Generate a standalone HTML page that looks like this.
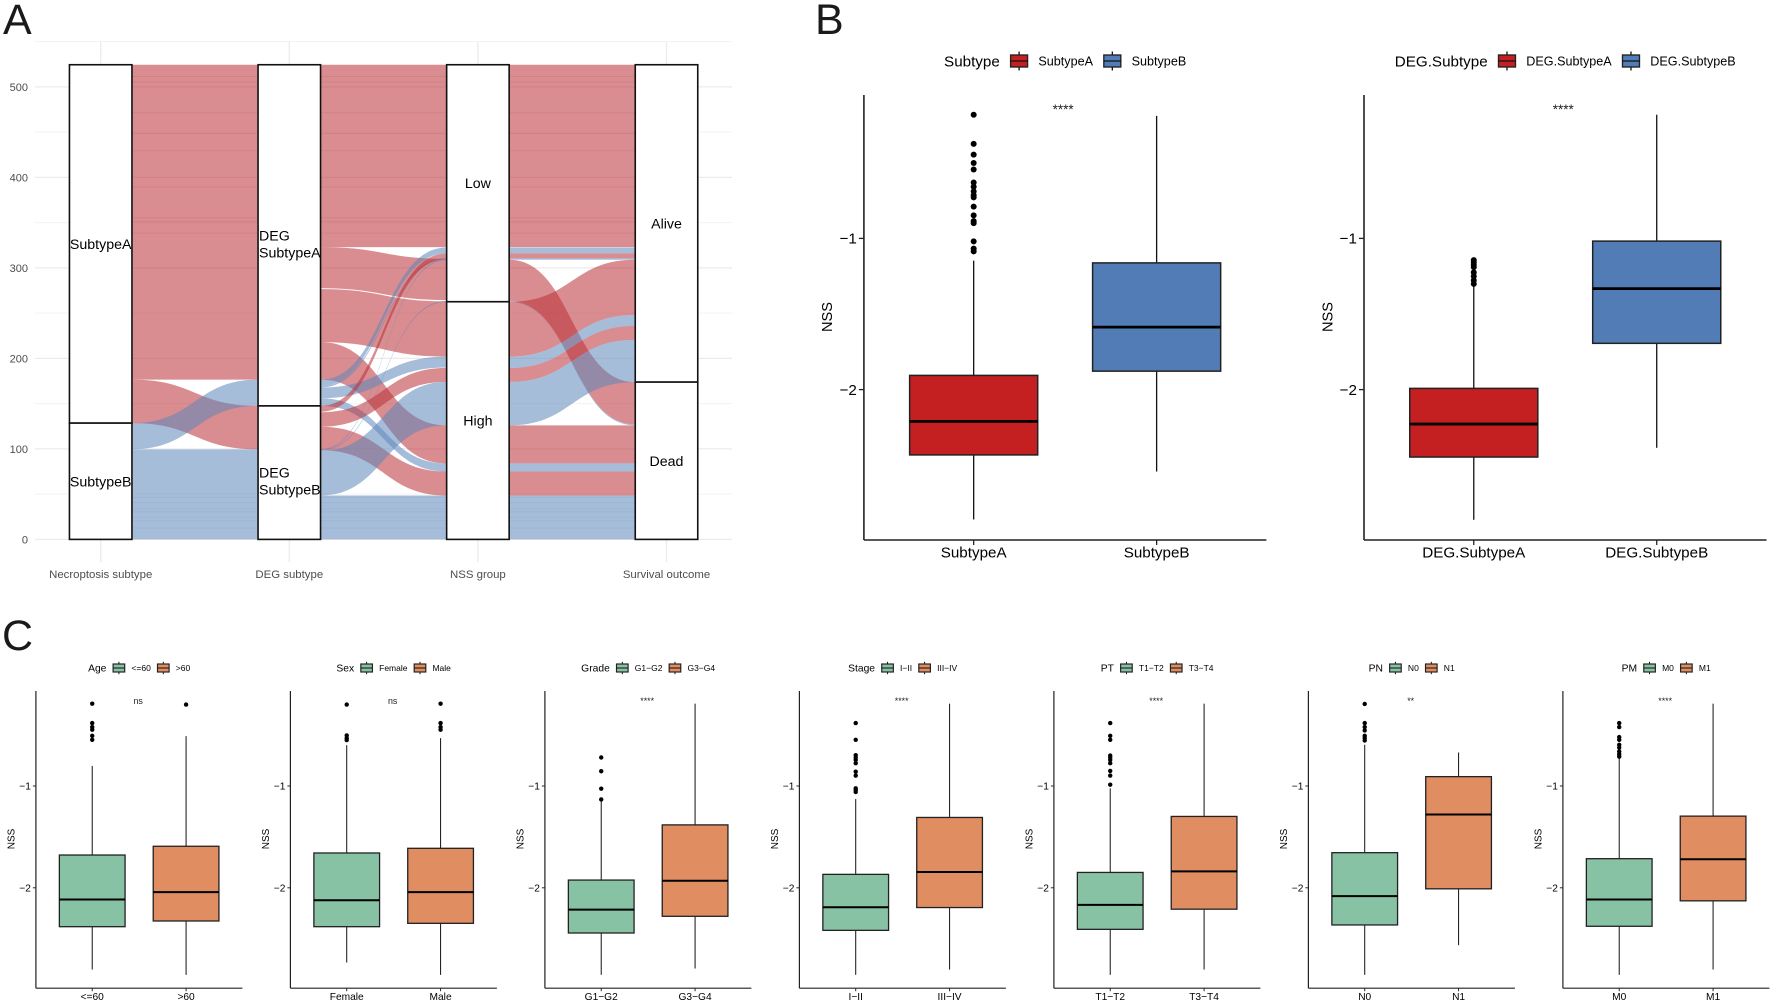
<!DOCTYPE html>
<html lang="en">
<head>
<meta charset="utf-8">
<title>Alluvial and NSS boxplots</title>
<style>
html,body{margin:0;padding:0;background:#fff;width:1772px;height:1002px;overflow:hidden}
svg{display:block;font-family:"Liberation Sans",Arial,sans-serif;filter:blur(0.35px)}
</style>
</head>
<body>
<svg id="figure" xmlns="http://www.w3.org/2000/svg" width="1772" height="1002" viewBox="0 0 1772 1002">
  <rect width="1772" height="1002" fill="#fff"/>
  <text x="3" y="34" font-size="43" fill="#1a1a1a">A</text>
  <text x="815" y="34" font-size="43" fill="#1a1a1a">B</text>
  <text x="2" y="650" font-size="43" fill="#1a1a1a">C</text>
  <g id="panel-a"></g>
  <g id="panel-b"></g>
  <g id="panel-c"></g>
</svg>
<script>
/* ---------- Panel A data ---------- */
const alluvialAxes = ['Necroptosis subtype', 'DEG subtype', 'NSS group', 'Survival outcome'];
const alluvialTicks = [0, 100, 200, 300, 400, 500];
const alluvialMinorTicks = [50, 150, 250, 350, 450, 550];
const alluvialTickLabels = ['0', '100', '200', '300', '400', '500'];
const alluvialTotal = 524.5;
/* stratum: axis index, lower, upper, label lines */
const strataAxis = [0, 0, 1, 1, 2, 2, 3, 3];
const strataLow = [128.5, 0, 147.5, 0, 262.6, 0, 173.8, 0];
const strataHigh = [524.5, 128.5, 524.5, 147.5, 524.5, 262.6, 524.5, 173.8];
const strataLabels = [['SubtypeA'], ['SubtypeB'], ['DEG', 'SubtypeA'], ['DEG', 'SubtypeB'], ['Low'], ['High'], ['Alive'], ['Dead']];
/* flows: [segment, series (0 = SubtypeA, 1 = SubtypeB), left low, left high, right low, right high] */
const flowsSegment1 = [
  [0, 0, 176.5, 524.5, 176.5, 524.5],
  [0, 0, 128.5, 176.5, 99.5, 147.5],
  [0, 1, 99.5, 128.5, 147.5, 176.5],
  [0, 1, 0, 99.5, 0, 99.5]
];
const flowsSegment2 = [
  [1, 0, 323, 524.5, 323, 524.5],
  [1, 0, 277.5, 323, 264.5, 310],
  [1, 0, 218, 276.5, 202, 263],
  [1, 0, 176.5, 218, 84, 126],
  [1, 1, 169.5, 176.5, 316, 322.5],
  [1, 1, 167.8, 169.5, 309, 310.7],
  [1, 1, 156, 167.8, 190, 202],
  [1, 1, 147.5, 156, 75, 84],
  [1, 0, 141, 147.5, 310, 316],
  [1, 0, 124.5, 140.5, 174, 189.5],
  [1, 0, 98.5, 124.5, 48.5, 75],
  [1, 1, 98.8, 99.8, 308.5, 309.5],
  [1, 1, 97.8, 98.8, 262.4, 263.6],
  [1, 1, 48.5, 97.8, 126, 174],
  [1, 1, 0, 48.5, 0, 48.5]
];
const flowsSegment3 = [
  [2, 0, 323, 524.5, 323, 524.5],
  [2, 1, 316, 322.5, 316, 322.5],
  [2, 0, 310.5, 316, 310.5, 316],
  [2, 1, 309, 310.5, 309, 310.5],
  [2, 0, 263.5, 309, 127, 173.8],
  [2, 1, 262.5, 263.5, 126, 127],
  [2, 0, 202, 262.5, 248, 309],
  [2, 1, 189.5, 202, 236, 248],
  [2, 0, 174, 189.5, 220.5, 236],
  [2, 1, 126, 174, 173.8, 220.5],
  [2, 0, 84, 126, 84, 126],
  [2, 1, 75, 84, 75, 84],
  [2, 0, 48.5, 75, 48.5, 75],
  [2, 1, 0, 48.5, 0, 48.5]
];
const redStripes = [511, 505, 471, 448, 429, 389, 355, 351, 338];
const blueStripes = [46, 40, 33, 30, 24, 20, 12];

/* ---------- Boxplot data (one row per panel, one pair per box) ---------- */
const panelTitles = ['Subtype', 'DEG.Subtype', 'Age', 'Sex', 'Grade', 'Stage', 'PT', 'PN', 'PM'];
const panelCategories = [
  ['SubtypeA', 'SubtypeB'], ['DEG.SubtypeA', 'DEG.SubtypeB'], ['<=60', '>60'], ['Female', 'Male'],
  ['G1\u2212G2', 'G3\u2212G4'], ['I\u2212II', 'III\u2212IV'], ['T1\u2212T2', 'T3\u2212T4'], ['N0', 'N1'], ['M0', 'M1']
];
const panelSignificance = ['****', '****', 'ns', 'ns', '****', '****', '****', '**', '****'];
const yTickValues = [-1, -2];
const yTickLabels = ['\u22121', '\u22122'];
const q3Values = [
  [-1.906, -1.162], [-1.992, -1.018], [-1.678, -1.592], [-1.658, -1.612], [-1.924, -1.382],
  [-1.868, -1.309], [-1.849, -1.299], [-1.655, -0.908], [-1.714, -1.296]
];
const medianValues = [
  [-2.21, -1.587], [-2.228, -1.332], [-2.115, -2.043], [-2.122, -2.043], [-2.214, -1.931],
  [-2.191, -1.845], [-2.168, -1.839], [-2.082, -1.28], [-2.115, -1.72]
];
const q1Values = [
  [-2.432, -1.878], [-2.446, -1.694], [-2.382, -2.326], [-2.382, -2.349], [-2.444, -2.28],
  [-2.418, -2.194], [-2.408, -2.21], [-2.365, -2.01], [-2.378, -2.128]
];
const whiskerTopValues = [
  [-1.147, -0.19], [-1.316, -0.182], [-0.803, -0.51], [-0.599, -0.53], [-1.135, -0.191],
  [-1.128, -0.191], [-1.023, -0.191], [-0.595, -0.671], [-0.727, -0.191]
];
const whiskerBottomValues = [
  [-2.859, -2.542], [-2.861, -2.385], [-2.803, -2.855], [-2.734, -2.855], [-2.855, -2.793],
  [-2.855, -2.803], [-2.855, -2.803], [-2.855, -2.563], [-2.855, -2.803]
];
const outlierValues = [
  [[-0.182, -0.375, -0.446, -0.501, -0.544, -0.63, -0.658, -0.689, -0.714, -0.729, -0.79, -0.848, -0.886, -0.899, -1.02, -1.068, -1.086], []],
  [[-1.144, -1.159, -1.175, -1.19, -1.225, -1.25, -1.278, -1.301], []],
  [[-0.191, -0.382, -0.421, -0.447, -0.507, -0.546], [-0.2]],
  [[-0.2, -0.503, -0.53, -0.549], [-0.191, -0.382, -0.421, -0.447]],
  [[-0.72, -0.855, -1.026, -1.132], []],
  [[-0.382, -0.546, -0.697, -0.72, -0.743, -0.776, -0.859, -0.898, -1.023, -1.039, -1.059], []],
  [[-0.382, -0.507, -0.546, -0.701, -0.72, -0.743, -0.776, -0.852, -0.898, -0.987], []],
  [[-0.194, -0.382, -0.421, -0.454, -0.507, -0.53, -0.553], []],
  [[-0.382, -0.421, -0.52, -0.546, -0.595, -0.622, -0.661, -0.688, -0.711], []]
];

/* ---------- Drawing helpers ---------- */
const SVGNS = 'http://www.w3.org/2000/svg';
function slug(s) {
  return String(s).toLowerCase().replace(/<=/g, 'le-').replace(/>/g, 'gt-').replace(/\u2212/g, '-').replace(/[^a-z0-9-]+/g, '-').replace(/^-+|-+$/g, '');
}
function make(parent, tag, name, props, content) {
  const el = document.createElementNS(SVGNS, tag);
  
  
  for (const k in props) el.setAttribute(k, props[k]);
  if (content !== undefined) el.textContent = content;
  parent.appendChild(el);
  return el;
}

/* ---------- Panel A ---------- */
(function drawAlluvial() {
  const root = document.getElementById('panel-a');
  const yA = v => 539.4 - v * 0.905;
  const xA = i => 100.7 + i * 188.6;
  const halfW = 31.25;
  const seriesFill = ['rgb(186,48,52)', 'rgb(92,134,188)'];

  alluvialMinorTicks.forEach(t => {
    make(root, 'line', 'minor-gridline-' + t, {x1: 35, x2: 732, y1: yA(t), y2: yA(t), stroke: '#f3f3f3', 'stroke-width': 1});
  });
  alluvialTicks.forEach((t, i) => {
    make(root, 'line', 'major-gridline-' + t, {x1: 35, x2: 732, y1: yA(t), y2: yA(t), stroke: '#ececec', 'stroke-width': 1.3});
    make(root, 'text', 'y-tick-label-' + t, {x: 28, y: yA(t) + 4, 'text-anchor': 'end', 'font-size': 11, fill: '#4d4d4d'}, alluvialTickLabels[i]);
  });
  alluvialAxes.forEach((a, i) => {
    make(root, 'line', 'vertical-gridline-' + slug(a), {x1: xA(i), x2: xA(i), y1: 41.5, y2: 562, stroke: '#ececec', 'stroke-width': 1.3});
    make(root, 'text', 'x-axis-label-' + slug(a), {x: xA(i), y: 578, 'text-anchor': 'middle', 'font-size': 11.4, fill: '#4d4d4d'}, a);
  });

  function flowPath(seg, l0, l1, r0, r1) {
    const x0 = xA(seg) + halfW, x1 = xA(seg + 1) - halfW, xm = (x0 + x1) / 2;
    return 'M' + x0 + ' ' + yA(l1) + ' C' + xm + ' ' + yA(l1) + ' ' + xm + ' ' + yA(r1) + ' ' + x1 + ' ' + yA(r1) +
      ' L' + x1 + ' ' + yA(r0) + ' C' + xm + ' ' + yA(r0) + ' ' + xm + ' ' + yA(l0) + ' ' + x0 + ' ' + yA(l0) + ' Z';
  }
  flowsSegment1.concat(flowsSegment2, flowsSegment3).forEach((f, i) => {
    make(root, 'path', 'flow-' + (f[1] === 0 ? 'subtype-a-' : 'subtype-b-') + i, {d: flowPath(f[0], f[2], f[3], f[4], f[5]), fill: seriesFill[f[1]], 'fill-opacity': 0.55});
  });
  [0, 1, 2].forEach(seg => {
    redStripes.forEach(v => {
      make(root, 'path', 'flow-stripe-red', {d: flowPath(seg, v, v + 1, v, v + 1), fill: seriesFill[0], 'fill-opacity': 0.14});
    });
    blueStripes.forEach(v => {
      make(root, 'path', 'flow-stripe-blue', {d: flowPath(seg, v, v + 1, v, v + 1), fill: seriesFill[1], 'fill-opacity': 0.14});
    });
  });
  strataLabels.forEach((lines, i) => {
    const cx = xA(strataAxis[i]);
    const name = slug(lines.join('-'));
    make(root, 'rect', 'stratum-' + name, {x: cx - halfW, width: halfW * 2, y: yA(strataHigh[i]), height: yA(strataLow[i]) - yA(strataHigh[i]), fill: '#fff', stroke: '#111', 'stroke-width': 1.6});
  });
  strataLabels.forEach((lines, i) => {
    const cx = xA(strataAxis[i]);
    const my = yA((strataHigh[i] + strataLow[i]) / 2);
    const name = slug(lines.join('-'));
    if (lines.length === 1) {
      make(root, 'text', 'stratum-label-' + name, {x: cx, y: my + 5, 'text-anchor': 'middle', 'font-size': 14.2, fill: '#000'}, lines[0]);
    } else {
      lines.forEach((ln, j) => {
        make(root, 'text', 'stratum-label-' + name + '-line-' + (j + 1), {x: cx - halfW + 1, y: my + 5 + j * 17, 'font-size': 14.2, fill: '#000'}, ln);
      });
    }
  });
})();

/* ---------- Panels B and C ---------- */
const styleB = {
  width: 402.5, top: 95, bottom: 540, y1: 238.4, unit: 151.2, fills: ['#c42021', '#527cb5'],
  tick: 5, tickFont: 15.2, xLabelY: 557.5, nssFont: 14.6, nssOffset: -37, sigFont: 13.5, sigY: 114, sigShift: -2, axisW: 1.6, boxW: 1.5, medW: 2.8,
  whiskW: 1.3, dot: 3, legendY: 61, titleFont: 15.2, labelFont: 12.6, gap: 19.3, keyW: 17, keyH: 12, keyWhisk: 19
};
const styleC = {
  width: 206.5, top: 691, bottom: 988.2, y1: 786, unit: 101.8, fills: ['#88c2a4', '#e08d62'],
  tick: 3, tickFont: 10.2, xLabelY: 1000, nssFont: 10, nssOffset: -25, sigFont: 8.9, sigY: 704, sigShift: -1, axisW: 1.2, boxW: 1.3, medW: 2,
  whiskW: 1, dot: 2.2, legendY: 668, titleFont: 10.3, labelFont: 8.5, gap: 12.5, keyW: 11.6, keyH: 8, keyWhisk: 12.4
};

function drawBoxPanel(host, index, left, s) {
  const g = make(host, 'g', 'boxplot-' + slug(panelTitles[index]), {});
  const yS = v => s.y1 + (-1 - v) * s.unit;
  const band = s.width / 2.2;
  const xS = j => left + band * (0.6 + j);
  const boxW = band * 0.7;

  make(g, 'line', 'y-axis-line', {x1: left, x2: left, y1: s.top, y2: s.bottom, stroke: '#222', 'stroke-width': s.axisW});
  make(g, 'line', 'x-axis-line', {x1: left, x2: left + s.width, y1: s.bottom, y2: s.bottom, stroke: '#222', 'stroke-width': s.axisW});
  make(g, 'text', 'y-axis-title', {transform: 'translate(' + (left + s.nssOffset + s.nssFont * 0.36) + ' ' + (s.y1 + s.unit * 0.52) + ') rotate(-90)', 'text-anchor': 'middle', 'font-size': s.nssFont, fill: '#000'}, 'NSS');

  yTickValues.forEach((v, i) => {
    make(g, 'line', 'y-tick', {x1: left - s.tick, x2: left, y1: yS(v), y2: yS(v), stroke: '#222', 'stroke-width': s.axisW * 0.8});
    make(g, 'text', 'y-tick-label', {x: left - s.tick - 2, y: yS(v) + s.tickFont * 0.35, 'text-anchor': 'end', 'font-size': s.tickFont, fill: '#000'}, yTickLabels[i]);
  });

  panelCategories[index].forEach((cat, j) => {
    const cx = xS(j);
    const nm = slug(cat);
    make(g, 'line', 'x-tick-' + nm, {x1: cx, x2: cx, y1: s.bottom, y2: s.bottom + s.tick, stroke: '#222', 'stroke-width': s.axisW * 0.8});
    make(g, 'text', 'x-tick-label-' + nm, {x: cx, y: s.xLabelY, 'text-anchor': 'middle', 'font-size': s.tickFont, fill: '#000'}, cat);
    make(g, 'line', 'whisker-upper-' + nm, {x1: cx, x2: cx, y1: yS(whiskerTopValues[index][j]), y2: yS(q3Values[index][j]), stroke: '#111', 'stroke-width': s.whiskW});
    make(g, 'line', 'whisker-lower-' + nm, {x1: cx, x2: cx, y1: yS(q1Values[index][j]), y2: yS(whiskerBottomValues[index][j]), stroke: '#111', 'stroke-width': s.whiskW});
    make(g, 'rect', 'box-' + nm, {x: cx - boxW / 2, width: boxW, y: yS(q3Values[index][j]), height: yS(q1Values[index][j]) - yS(q3Values[index][j]), fill: s.fills[j], stroke: '#222', 'stroke-width': s.boxW});
    make(g, 'line', 'median-' + nm, {x1: cx - boxW / 2, x2: cx + boxW / 2, y1: yS(medianValues[index][j]), y2: yS(medianValues[index][j]), stroke: '#000', 'stroke-width': s.medW});
    outlierValues[index][j].forEach(o => {
      make(g, 'circle', 'outlier-' + nm, {cx: cx, cy: yS(o), r: s.dot, fill: '#000'});
    });
  });

  make(g, 'text', 'significance-label', {x: left + s.width * 0.5 + s.sigShift, y: s.sigY, 'text-anchor': 'middle', 'font-size': s.sigFont, fill: '#222'}, panelSignificance[index]);

  /* legend: centred above the panel, positions come from measured text */
  const lg = make(g, 'g', 'legend-' + slug(panelTitles[index]), {});
  const ly = s.legendY;
  const title = make(lg, 'text', 'legend-title', {x: 0, y: ly + s.titleFont * 0.36, 'font-size': s.titleFont, fill: '#000'}, panelTitles[index]);
  let cursor = title.getComputedTextLength();
  panelCategories[index].forEach((cat, j) => {
    const nm = slug(cat);
    const kx = cursor + s.gap;
    make(lg, 'line', 'legend-key-whisker-' + nm, {x1: kx, x2: kx, y1: ly - s.keyWhisk / 2, y2: ly + s.keyWhisk / 2, stroke: '#111', 'stroke-width': s.whiskW});
    make(lg, 'rect', 'legend-key-' + nm, {x: kx - s.keyW / 2, width: s.keyW, y: ly - s.keyH / 2, height: s.keyH, fill: s.fills[j], stroke: '#222', 'stroke-width': s.boxW * 0.9});
    make(lg, 'line', 'legend-key-median-' + nm, {x1: kx - s.keyW / 2, x2: kx + s.keyW / 2, y1: ly, y2: ly, stroke: '#111', 'stroke-width': s.whiskW});
    const t = make(lg, 'text', 'legend-label-' + nm, {x: kx + s.gap, y: ly + s.labelFont * 0.36, 'font-size': s.labelFont, fill: '#000'}, cat);
    cursor = kx + s.gap + t.getComputedTextLength();
  });
  lg.setAttribute('transform', 'translate(' + (left + s.width / 2 - cursor / 2) + ' 0)');
}

const hostB = document.getElementById('panel-b');
const hostC = document.getElementById('panel-c');
drawBoxPanel(hostB, 0, 863.9, styleB);
drawBoxPanel(hostB, 1, 1364, styleB);
for (let i = 2; i < panelTitles.length; i++) {
  drawBoxPanel(hostC, i, 35.9 + 254.5 * (i - 2), styleC);
}
</script>
</body>
</html>
